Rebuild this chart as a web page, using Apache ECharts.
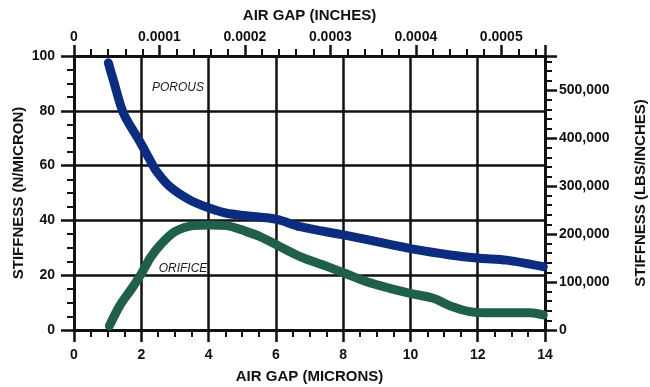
<!DOCTYPE html>
<html>
<head>
<meta charset="utf-8">
<script src="https://cdn.jsdelivr.net/npm/echarts@6/dist/echarts.min.js"></script>
<style>
html,body{margin:0;padding:0;background:#fff;}
#chart{width:650px;height:387px;}
</style>
</head>
<body>
<div id="chart"></div>
<script>
// Air gap in microns
const porousX = [1.02, 1.17, 1.47, 1.96, 2.26, 2.46, 2.85, 3.45, 4.04, 4.54, 5.13, 6.03, 6.72, 8.01, 9.49, 10.04, 11.18, 12.07, 12.86, 13.95];
// Stiffness in N/micron
const porousY = [97.5, 91.2, 79.1, 68.7, 62.0, 57.8, 52.3, 47.4, 44.4, 42.6, 41.7, 40.4, 37.7, 34.7, 31.0, 29.6, 27.4, 26.2, 25.5, 23.1];

const orificeX = [1.05, 1.37, 1.72, 2.01, 2.26, 2.56, 3.0, 3.55, 4.04, 4.54, 5.13, 5.53, 6.03, 6.72, 7.41, 8.01, 8.70, 9.39, 9.99, 10.68, 11.18, 11.77, 12.27, 13.56, 13.95];
const orificeY = [1.5, 9.1, 15.2, 20.7, 26.2, 31.0, 35.9, 38.1, 38.3, 38.1, 35.9, 34.1, 31.0, 26.8, 23.7, 20.9, 17.6, 15.2, 13.4, 11.6, 8.8, 6.7, 6.3, 6.3, 5.5];

const seriesNames = ['POROUS', 'ORIFICE'];
const labelPos = { POROUS: [3.09, 88.6], ORIFICE: [3.24, 22.5] };

const micronMax = 14;
const stiffMax = 100;
const MICRON_TO_INCH = 1 / 25400;
const NPERMICRON_TO_LBSPERINCH = 5710.147;

const FONT = '"Liberation Sans", Arial, Helvetica, sans-serif';
const BLACK = '#111';

function zip(xs, ys) { return xs.map((x, i) => [x, ys[i]]); }

const chart = echarts.init(document.getElementById('chart'), null, { renderer: 'canvas' });

const tickLabel = { color: BLACK, fontFamily: FONT, fontSize: 14, fontWeight: 'bold' };
const nameStyle = { color: BLACK, fontFamily: FONT, fontSize: 15, fontWeight: 'bold' };
const axisLine = { show: true, onZero: false, lineStyle: { color: BLACK, width: 3 } };

function textMark(name) {
  return {
    symbol: 'circle', symbolSize: 1,
    itemStyle: { color: 'rgba(0,0,0,0)' },
    label: { show: true, position: 'inside', formatter: name, color: '#1a1a1a', fontFamily: FONT, fontSize: 12, fontStyle: 'italic' },
    data: [{ coord: labelPos[name] }]
  };
}

const option = {
  animation: false,
  backgroundColor: '#fff',
  grid: { left: 74, right: 105, top: 56, bottom: 57, containLabel: false, outerBoundsMode: 'none' },
  xAxis: [
    {
      type: 'value', position: 'bottom', min: 0, max: micronMax, interval: 2,
      name: 'AIR GAP (MICRONS)', nameLocation: 'middle', nameGap: 39, nameMoveOverlap: false, nameTextStyle: nameStyle,
      axisLine: axisLine,
      axisTick: { show: true, length: 12, lineStyle: { color: BLACK, width: 2.5 } },
      minorTick: { show: true, splitNumber: 4, length: 7, lineStyle: { color: BLACK, width: 2 } },
      splitLine: { show: true, lineStyle: { color: BLACK, width: 2.5 } },
      axisLabel: Object.assign({ margin: 18 }, tickLabel)
    },
    {
      type: 'value', position: 'top', min: 0, max: micronMax * MICRON_TO_INCH, interval: 0.0001,
      name: 'AIR GAP (INCHES)', nameLocation: 'middle', nameGap: 33, nameMoveOverlap: false, nameTextStyle: nameStyle,
      axisLine: axisLine,
      axisTick: { show: true, length: 11, lineStyle: { color: BLACK, width: 2.5 } },
      minorTick: { show: true, splitNumber: 5, length: 7, lineStyle: { color: BLACK, width: 2 } },
      splitLine: { show: false },
      axisLabel: Object.assign({
        margin: 12, showMaxLabel: false,
        formatter: function (v) {
          const k = v / 0.0001;
          if (Math.abs(k - Math.round(k)) > 1e-6) return '';
          if (Math.round(k) === 0) return '0';
          return v.toFixed(4);
        }
      }, tickLabel)
    }
  ],
  yAxis: [
    {
      type: 'value', position: 'left', min: 0, max: stiffMax, interval: 20,
      name: 'STIFFNESS (N/MICRON)', nameLocation: 'middle', nameGap: 48, nameMoveOverlap: false, nameTextStyle: nameStyle,
      axisLine: axisLine,
      axisTick: { show: true, length: 13, lineStyle: { color: BLACK, width: 2.5 } },
      minorTick: { show: true, splitNumber: 4, length: 7, lineStyle: { color: BLACK, width: 2 } },
      splitLine: { show: true, lineStyle: { color: BLACK, width: 2.5 } },
      axisLabel: Object.assign({ margin: 19 }, tickLabel)
    },
    {
      type: 'value', position: 'right', min: 0, max: stiffMax * NPERMICRON_TO_LBSPERINCH, interval: 100000,
      name: 'STIFFNESS (LBS/INCHES)', nameLocation: 'middle', nameGap: 88, nameMoveOverlap: false, nameTextStyle: nameStyle,
      axisLine: axisLine,
      axisTick: { show: true, length: 12, lineStyle: { color: BLACK, width: 2.5 } },
      minorTick: { show: true, splitNumber: 5, length: 7, lineStyle: { color: BLACK, width: 2 } },
      splitLine: { show: false },
      axisLabel: Object.assign({
        margin: 14, showMaxLabel: false,
        formatter: function (v) {
          const k = v / 100000;
          if (Math.abs(k - Math.round(k)) > 1e-6) return '';
          return Math.round(v).toLocaleString('en-US');
        }
      }, tickLabel)
    }
  ],
  series: [
    {
      name: seriesNames[0], type: 'line', xAxisIndex: 0, yAxisIndex: 0,
      data: zip(porousX, porousY), smooth: 0.3, symbol: 'none',
      lineStyle: { color: '#0c2c80', width: 9, cap: 'round', join: 'round' },
      markPoint: textMark(seriesNames[0])
    },
    {
      name: seriesNames[1], type: 'line', xAxisIndex: 0, yAxisIndex: 0,
      data: zip(orificeX, orificeY), smooth: 0.3, symbol: 'none',
      lineStyle: { color: '#1f5f4c', width: 9, cap: 'round', join: 'round' },
      markPoint: textMark(seriesNames[1])
    }
  ]
};

chart.setOption(option);
</script>
</body>
</html>
